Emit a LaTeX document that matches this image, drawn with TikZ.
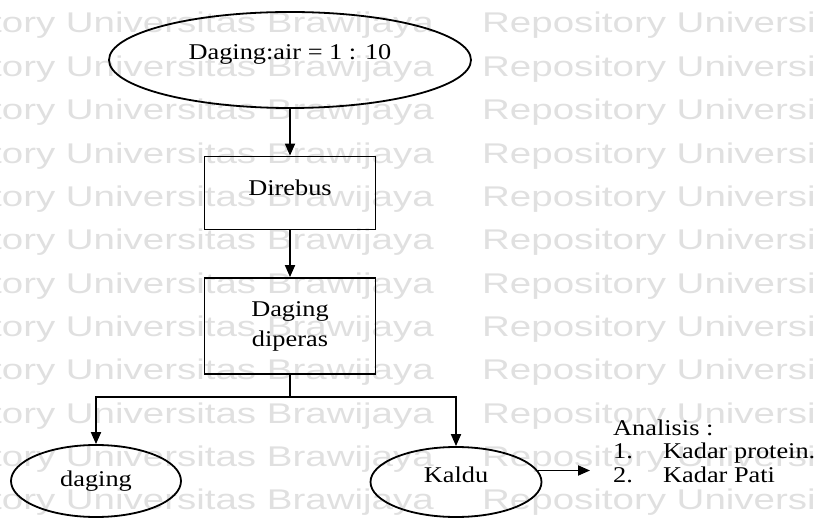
\documentclass[tikz,border=0pt]{standalone}
\usepackage{fontspec}
\setmainfont{Liberation Serif}[FakeStretch=1.17]
\newfontfamily\wmfont{Liberation Sans}[FakeStretch=1.35]
\usetikzlibrary{shapes.geometric,arrows.meta,math}

\begin{document}
\begin{tikzpicture}[x=1pt,y=-1pt,
    every node/.style={font=\fontsize{22.5}{30}\selectfont},
    proses/.style={draw,line width=1.8pt,rectangle,minimum width=171pt},
    bahan/.style={draw,line width=1.8pt,ellipse},
    panah/.style={line width=1.8pt,-{Triangle[length=12pt,width=10pt]}},
    wm/.style={font=\wmfont\fontsize{28.5}{30}\selectfont,text=black!12,inner sep=0pt}]
  \useasboundingbox (0,0) rectangle (816,518);
  % watermark rows behind the chart
  \begin{scope}
    \clip (0,0) rectangle (816,518);
    \tikzmath{\gap = 43.35;}
    \foreach \i in {0,...,11} {
      \node[wm,anchor=base east] (wl\i) at (434,33+\i*\gap) {Repository Universitas Brawijaya};
      \node[wm,anchor=base west] (wr\i) at (482,33+\i*\gap) {Repository Universitas Brawijaya};
    }
  \end{scope}
  % process steps
  \node[bahan,minimum width=362pt,minimum height=96pt,text height=15pt,text depth=15pt] (rasio) at (290,60) {Daging:air = 1 : 10};
  \node[proses,minimum height=73pt,text depth=10pt] (rebus) at (290,193) {Direbus};
  \node[proses,minimum height=96pt,align=center] (peras) at (290,326) {Daging\\diperas};
  \coordinate (cabang) at (290,397);
  \node[bahan,minimum width=170pt,minimum height=72pt] (daging) at (96,481) {daging};
  \node[bahan,minimum width=171pt,minimum height=70pt,text height=15pt,text depth=15pt] (kaldu) at (456,482) {Kaldu};
  \coordinate (uji) at (590,0);
  \node[anchor=base west,inner sep=0pt,align=left,font=\fontsize{22.5}{23.5}\selectfont] (analisis) at (613,482)
    {Analisis :\\\makebox[50pt][l]{1.}Kadar protein.\\\makebox[50pt][l]{2.}Kadar Pati};
  % connectors
  \draw[panah] (rasio) -- (rebus);
  \draw[panah] (rebus) -- (peras);
  \draw[line width=1.8pt] (peras) -- (cabang);
  \draw[panah] (cabang) -| (daging);
  \draw[panah] (cabang) -| (kaldu);
  \draw[panah] (kaldu.8) -- (kaldu.8 -| uji);
\end{tikzpicture}
\end{document}
